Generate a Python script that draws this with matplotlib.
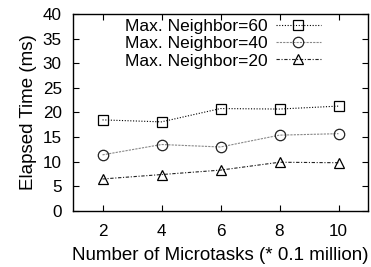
import matplotlib
matplotlib.use("Agg")
import matplotlib.pyplot as plt

plt.rcParams['font.family'] = ['Liberation Sans', 'DejaVu Sans']

x = [2, 4, 6, 8, 10]
n60 = [18.5, 18.1, 20.8, 20.7, 21.3]
n40 = [11.4, 13.5, 13.0, 15.4, 15.7]
n20 = [6.5, 7.4, 8.3, 9.9, 9.8]
labels = ["Max. Neighbor=60", "Max. Neighbor=40", "Max. Neighbor=20"]

fig = plt.figure(figsize=(3.71, 2.67), dpi=100)
ax = fig.add_axes([73/371, 1-211/267, 295/371, 197/267])

ms = 7.5
ax.plot(x, n60, color='black', linestyle=(0, (1, 1.5)), lw=0.8, marker='s', ms=ms,
        mfc='none', mec='black', mew=0.9, label=labels[0])
ax.plot(x, n40, color='#888888', linestyle=(0, (2, 1)), lw=0.8, marker='o', ms=ms,
        mfc='none', mec='#222222', mew=0.9, label=labels[1])
ax.plot(x, n20, color='#222222', linestyle=(0, (3, 1.5, 1, 1.5)), lw=0.8, marker='^', ms=ms,
        mfc='none', mec='black', mew=0.9, label=labels[2])

ax.set_xlim(1, 11)
ax.set_ylim(0, 40)
ax.set_xticks(x)
ax.set_yticks(range(0, 41, 5))
ax.tick_params(direction='in', top=True, right=True, labelsize=12.3, length=4, width=0.8)
ax.tick_params(axis='x', pad=9)
ax.tick_params(axis='y', pad=8)
for s in ax.spines.values():
    s.set_linewidth(1.0)

ax.set_xlabel("Number of Microtasks (* 0.1 million)", fontsize=13.5, labelpad=6)
ax.set_ylabel("Elapsed Time (ms)", fontsize=13.5, labelpad=4)

ax.legend(loc='upper right', frameon=False, markerfirst=False, fontsize=12.5,
          handlelength=2.6, borderaxespad=0.0, labelspacing=0.12, borderpad=0.0,
          bbox_to_anchor=(0.84, 0.975), handletextpad=0.45)

fig.savefig("out.png", dpi=100)
